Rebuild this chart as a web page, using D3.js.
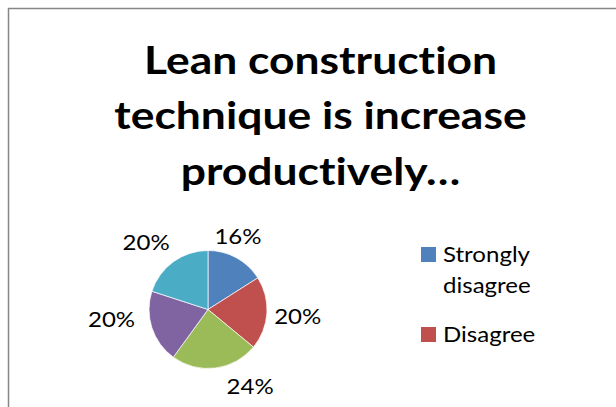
<!DOCTYPE html>
<html>
<head>
<meta charset="utf-8">
<script src="https://cdn.jsdelivr.net/npm/d3@7"></script>
<style>
  html, body { margin: 0; padding: 0; background: #fff; }
  svg { display: block; font-family: Lato, "Open Sans", sans-serif; font-variant-ligatures: none; }
</style>
</head>
<body>
<div id="chart"></div>
<script>
const titleLines = ['Lean construction', 'technique is increase', 'productively…'];
const categories = ['Strongly disagree', 'Disagree', 'Neutral', 'Agree', 'Strongly agree'];
const shares = [16, 20, 24, 20, 20];
const colors = ['#4F81BD', '#C0504D', '#9BBB59', '#8064A2', '#4BACC6'];

// excel's "best fit" label spots: [angle in degrees from 12 o'clock, distance from centre]
const labelSpots = [[22.3, 79], [94.4, 90], [151.4, 88], [263.9, 97], [317.2, 91]];

const width = 616, height = 407;
const cx = 208, cy = 309.5, radius = 59;

const svg = d3.select('#chart').append('svg')
  .attr('width', width)
  .attr('height', height)
  .attr('viewBox', `0 0 ${width} ${height}`);

// chart area border, cut off at right and bottom
svg.append('rect')
  .attr('x', 8.5).attr('y', 8.5)
  .attr('width', width + 20).attr('height', height + 20)
  .attr('fill', 'none')
  .attr('stroke', '#868686')
  .attr('stroke-width', 1.5);

//
// Title
//
const titleG = svg.append('g');
const titleText = titleG.selectAll('text').data(titleLines).enter().append('text')
  .attr('x', 0)
  .attr('y', (d, i) => i * 56)
  .attr('text-anchor', 'middle')
  .attr('font-weight', 'bold')
  .attr('font-size', 37.5)
  .attr('fill', '#000')
  .text(d => d);
const firstWidth = titleText.node().getComputedTextLength();
const sx = 353 / firstWidth;
titleG.attr('transform', `translate(320.5,73.5) scale(${sx},1)`);

//
// Legend (only the first two entries fit in the plot area)
//
const legendG = svg.append('g').attr('transform', 'translate(421,0)');
const legendItems = [
  {lines: ['Strongly', 'disagree'], color: colors[0], y: 262},
  {lines: [categories[1]], color: colors[1], y: 342}
];
const items = legendG.selectAll('g').data(legendItems).enter().append('g')
  .attr('transform', d => `translate(0,${d.y})`);
items.append('rect')
  .attr('x', 0).attr('y', -15)
  .attr('width', 15).attr('height', 15)
  .attr('fill', d => d.color);
const legendText = items.selectAll('text').data(d => d.lines).enter().append('text')
  .attr('font-size', 21.5)
  .attr('fill', '#000')
  .text(d => d);
// body text is a little wider than Lato: stretch to match
const bx = 87 / legendText.node().getComputedTextLength();
legendText.attr('transform', (d, i) => `translate(22,${i * 31}) scale(${bx},1)`);

//
// Pie
//
const pie = d3.pie().sort(null).value(d => d);
const arcs = pie(shares);
const arc = d3.arc().innerRadius(0).outerRadius(radius);

const pieG = svg.append('g').attr('transform', `translate(${cx},${cy})`);
pieG.selectAll('path').data(arcs).enter().append('path')
  .attr('d', arc)
  .attr('fill', (d, i) => colors[i])
  .attr('stroke', '#fff')
  .attr('stroke-width', 0.7);

const total = d3.sum(shares);
pieG.selectAll('text').data(arcs).enter().append('text')
  .attr('transform', (d, i) => {
    const [deg, dist] = labelSpots[i];
    const a = deg * Math.PI / 180;
    const p = d3.arc().innerRadius(dist).outerRadius(dist).startAngle(a).endAngle(a).centroid();
    return `translate(${p[0]},${p[1] + 7.5}) scale(${bx},1)`;
  })
  .attr('text-anchor', 'middle')
  .attr('font-size', 21.5)
  .attr('fill', '#000')
  .text(d => Math.round(d.value / total * 100) + '%');
</script>
</body>
</html>
